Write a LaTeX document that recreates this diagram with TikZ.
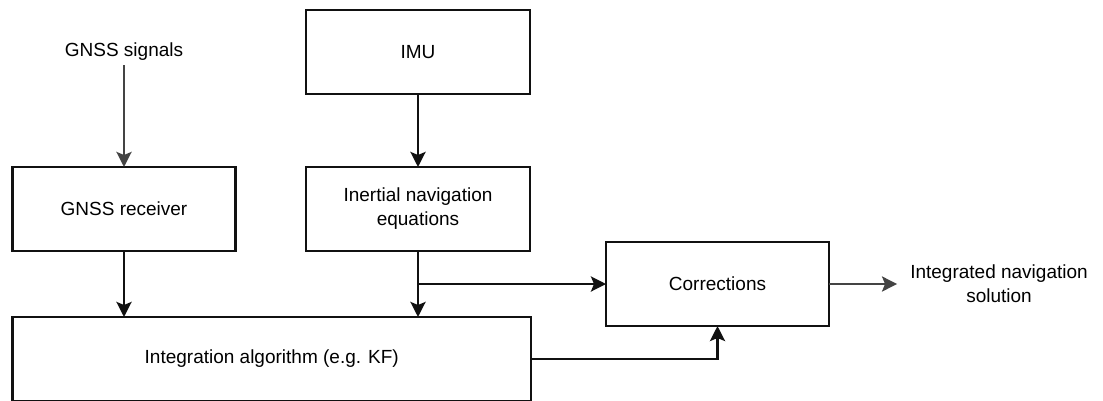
\documentclass[tikz,border=0pt]{standalone}
\usepackage{fontspec}
\setmainfont{Liberation Sans}
\usetikzlibrary{arrows.meta}
\definecolor{darkgrey}{HTML}{444444}
\definecolor{inkblack}{HTML}{111111}
\begin{document}
\begin{tikzpicture}[x=1pt,y=-1pt,
  every node/.style={font=\fontsize{19}{24}\selectfont, align=center},
  blockbox/.style={draw=inkblack, line width=2.8pt, rectangle, outer sep=0pt, inner sep=0pt, minimum height=84pt},
  plaintext/.style={inner sep=4pt},
  blackarrow/.style={draw=inkblack, line width=2.8pt, -{Stealth[length=15pt,width=15pt,inset=3pt]}},
  greyarrow/.style={draw=darkgrey, line width=2.8pt, -{Stealth[length=15pt,width=15pt,inset=3pt]}}
]
\useasboundingbox (0,0) rectangle (1103,400);

\node[plaintext] (sig) at (124,52) {GNSS signals};
\node[blockbox, minimum width=223.5pt] (rcv) at (124,209) {GNSS receiver};
\node[blockbox, minimum width=224pt] (imu) at (418,52) {IMU};
\node[blockbox, minimum width=224pt] (ine) at (418,209) {Inertial navigation\\equations};
\node[blockbox, minimum width=518.5pt] (integ) at (271.75,359) {Integration algorithm (e.g. KF)};
\node[blockbox, minimum width=223pt] (corr) at (717.5,284) {Corrections};
\node[inner xsep=13pt, inner ysep=2pt] (out) at (999,284) {Integrated navigation\\solution};

\draw[greyarrow] (sig.south) -- (rcv.north);
\draw[blackarrow] (imu.south) -- (ine.north);
\draw[blackarrow] (rcv.south) -- (rcv.south |- integ.north);
\draw[blackarrow] (ine.south) -- (ine.south |- integ.north);
\draw[blackarrow] (ine.south |- corr.west) -- (corr.west);
\draw[blackarrow] (integ.east) -| (corr.south);
\draw[greyarrow] (corr.east) -- (out.west);
\end{tikzpicture}
\end{document}
